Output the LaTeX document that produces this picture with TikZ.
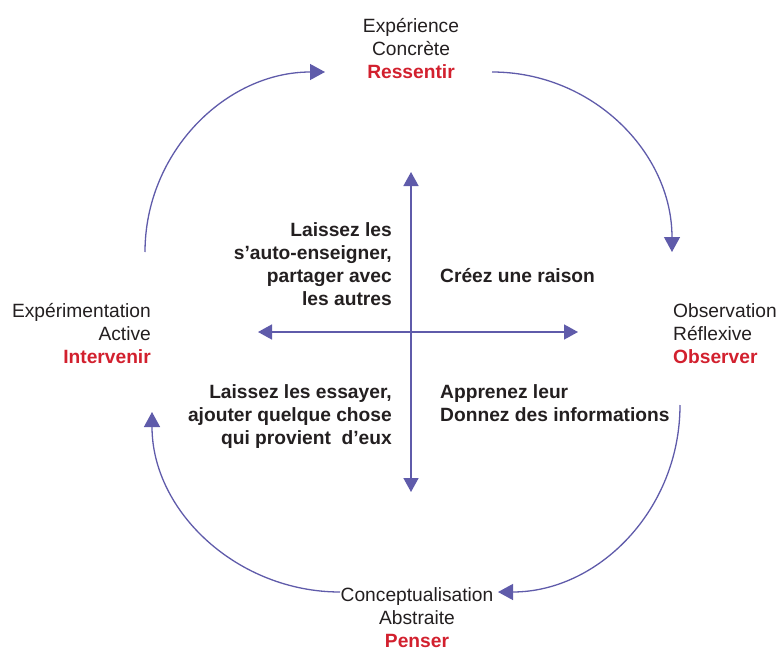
\documentclass[tikz,border=0pt]{standalone}
\usepackage{fontspec}
\setmainfont{Liberation Sans}
\usetikzlibrary{arrows.meta}
\definecolor{cyc}{HTML}{5F5BAA}
\definecolor{redt}{HTML}{D2202E}
\definecolor{txt}{HTML}{231F20}
\begin{document}
\begin{tikzpicture}[x=1pt,y=-1pt,
  lbl/.style={text=txt,font=\fontsize{19.2}{23.2}\selectfont,inner sep=0pt,align=center},
  inner/.style={text=txt,font=\fontsize{19.2}{23.2}\selectfont\bfseries,inner sep=0pt},
  cycarrow/.style={draw=cyc,line width=1.3pt,-{Triangle[length=15pt,width=16pt]}},
  axis/.style={draw=cyc,line width=1.6pt,{Triangle[length=14pt,width=15pt]}-{Triangle[length=14pt,width=15pt]}}]
\useasboundingbox (0,0) rectangle (776,650);
% stage labels
\node[lbl,anchor=north] (top) at (411,18) {Expérience\\Concrète\\\textcolor{redt}{\bfseries Ressentir}};
\node[lbl,anchor=north east,align=right] (left) at (151,303) {Expérimentation\\Active\\\textcolor{redt}{\bfseries Intervenir}};
\node[lbl,anchor=north west,align=left] (right) at (673,303) {Observation\\Réflexive\\\textcolor{redt}{\bfseries Observer}};
\node[lbl,anchor=north] (bottom) at (417,587) {Conceptualisation\\Abstraite\\\textcolor{redt}{\bfseries Penser}};
% cycle arc endpoints
\coordinate (tlS) at (145,252);
\coordinate (tlE) at (325,72);
\coordinate (trS) at (492,72);
\coordinate (trE) at (672,252);
\coordinate (brS) at (680,405);
\coordinate (brE) at (498,592);
\coordinate (blS) at (340,592);
\coordinate (blE) at (152,412);
\draw[cycarrow] (tlS) .. controls (145,152) and (226,72) .. (tlE);
\draw[cycarrow] (trS) .. controls (592,72) and (672,152) .. (trE);
\draw[cycarrow] (brS) .. controls (680,510) and (598,592) .. (brE);
\draw[cycarrow] (blS) .. controls (238,592) and (152,512) .. (blE);
% axes
\coordinate (vT) at (411,172);
\coordinate (vB) at (411,492);
\coordinate (hL) at (258,332);
\coordinate (hR) at (578,332);
\draw[axis] (vB) -- (vT);
\draw[axis] (hL) -- (hR);
% quadrant texts
\node[inner,anchor=north east,align=right] (q1) at (392,222) {Laissez les\\s’auto-enseigner,\\partager avec\\les autres};
\node[inner,anchor=north west,align=left] (q2) at (440,268) {Créez une raison};
\node[inner,anchor=north east,align=right] (q3) at (392,384) {Laissez les essayer,\\ajouter quelque chose\\qui provient\ \ d’eux};
\node[inner,anchor=north west,align=left] (q4) at (440,384) {Apprenez leur\\Donnez des informations};
\end{tikzpicture}
\end{document}
